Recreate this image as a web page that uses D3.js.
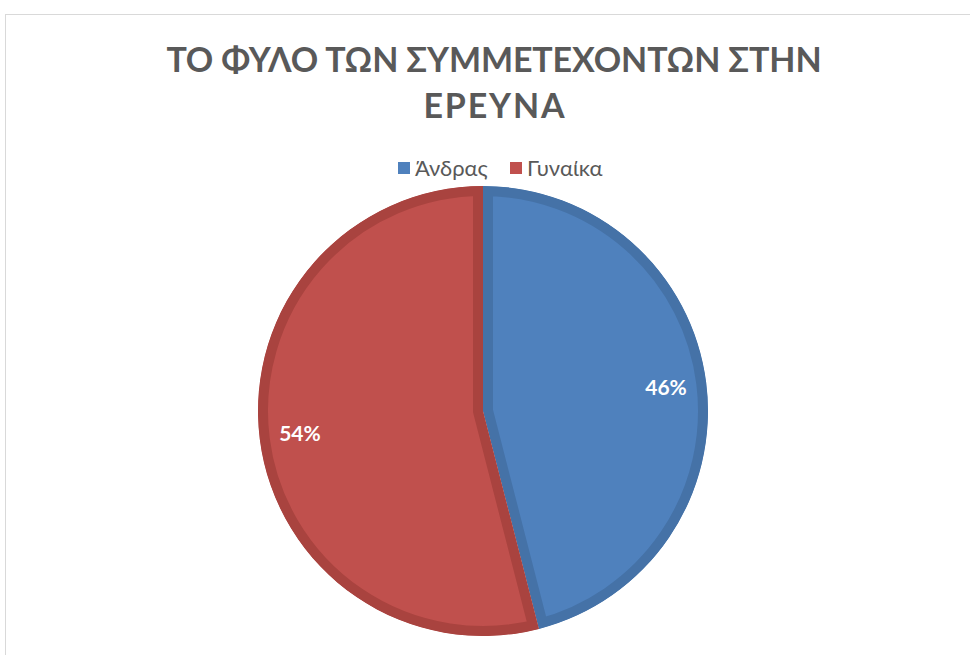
<!DOCTYPE html>
<html>
<head>
<meta charset="utf-8">
<script src="https://cdn.jsdelivr.net/npm/d3@7"></script>
<style>
  html, body { margin: 0; padding: 0; background: #fff; }
  svg { display: block; }
</style>
</head>
<body>
<svg id="chart" width="970" height="655"></svg>
<script>
// Participants by gender
const categories = ["Άνδρας", "Γυναίκα"];
const values = [46, 54];
const fillColors = ["#4F81BD", "#C0504D"];
const edgeColors = ["#4572A7", "#A9433F"];
const titleLines = ["ΤΟ ΦΥΛΟ ΤΩΝ ΣΥΜΜΕΤΕΧΟΝΤΩΝ ΣΤΗΝ", "ΕΡΕΥΝΑ"];

const svg = d3.select("#chart");

// chart frame
svg.append("rect")
  .attr("x", 5.5).attr("y", 14.5)
  .attr("width", 1000).attr("height", 700)
  .attr("fill", "#fff")
  .attr("stroke", "#D9D9D9").attr("stroke-width", 1);

// title, spaced out to its set width
const title = svg.append("g").attr("font-family", "Lato, 'Open Sans', sans-serif")
  .attr("font-weight", "bold").attr("fill", "#595959").attr("font-size", 34);
const titleY = [72, 118];
const titleW = [655, 143];
titleLines.forEach((t, i) => {
  const tx = title.append("text")
    .attr("x", 494).attr("y", titleY[i])
    .attr("text-anchor", "middle")
    .text(t);
  const n = t.length;
  const w = tx.node().getComputedTextLength();
  const ls = (titleW[i] - w) / n;
  tx.attr("letter-spacing", ls.toFixed(2))
    .attr("x", 494 + ls / 2);
});

// legend
const legend = svg.append("g").attr("font-family", "Lato, 'Open Sans', sans-serif")
  .attr("font-size", 22).attr("fill", "#595959");
const legendX = [398, 510];
categories.forEach((c, i) => {
  legend.append("rect")
    .attr("x", legendX[i]).attr("y", 162)
    .attr("width", 12).attr("height", 12)
    .attr("fill", fillColors[i]);
  legend.append("text")
    .attr("x", legendX[i] + 17).attr("y", 176)
    .text(c);
});

// pie
const cx = 483, cy = 411, R = 225, edge = 10;
const pie = d3.pie().sort(null).value(d => d)
  .startAngle(0).endAngle(2 * Math.PI);
const arcs = pie(values);
const arc = d3.arc().innerRadius(0).outerRadius(R);
const labelArc = d3.arc().innerRadius(R * 0.82).outerRadius(R * 0.82);

const defs = svg.append("defs");
const g = svg.append("g").attr("transform", `translate(${cx},${cy})`);

// each slice gets an inset darker rim: a double-width stroke clipped to the slice
arcs.forEach((a, i) => {
  defs.append("clipPath").attr("id", "clip" + i)
    .append("path").attr("d", arc(a));
  g.append("path")
    .attr("d", arc(a))
    .attr("fill", fillColors[i])
    .attr("stroke", edgeColors[i])
    .attr("stroke-width", edge * 2)
    .attr("stroke-linejoin", "miter")
    .attr("clip-path", `url(#clip${i})`);
});

// value labels
g.selectAll("text.lbl")
  .data(arcs)
  .join("text")
  .attr("class", "lbl")
  .attr("transform", d => {
    const [x, y] = labelArc.centroid(d);
    return `translate(${x},${y})`;
  })
  .attr("text-anchor", "middle")
  .attr("dy", "0.35em")
  .attr("font-family", "Lato, 'Open Sans', sans-serif")
  .attr("font-weight", "bold")
  .attr("font-size", 21)
  .attr("fill", "#fff")
  .text(d => d.data + "%");
</script>
</body>
</html>
